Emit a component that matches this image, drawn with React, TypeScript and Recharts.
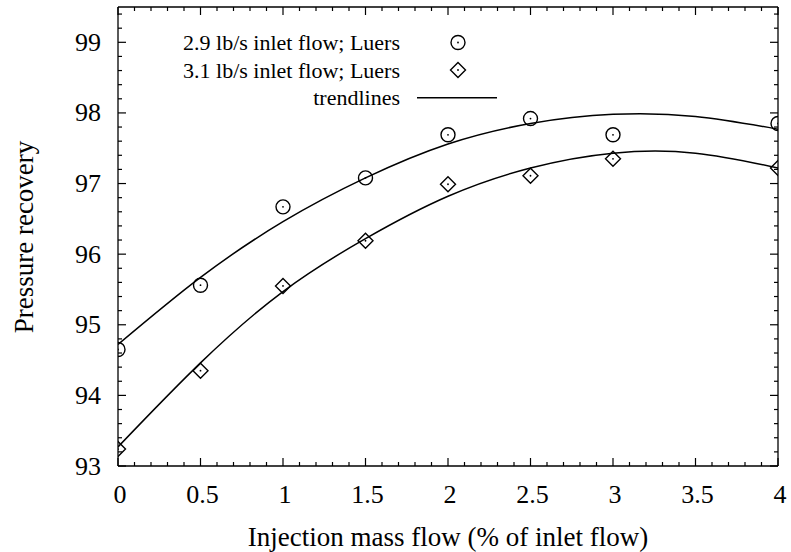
import React from 'react';
import { ComposedChart, Scatter, Line, XAxis, YAxis } from 'recharts';

// measured points (injection % vs pressure recovery)
const injection = [0, 0.5, 1, 1.5, 2, 2.5, 3, 4];
const recovery29 = [94.65, 95.56, 96.67, 97.08, 97.69, 97.92, 97.69, 97.85];
const recovery31 = [93.24, 94.35, 95.55, 96.19, 96.99, 97.11, 97.35, 97.22];

// trendline values
const trendX = [0, 0.5, 1, 1.5, 2, 2.5, 3, 3.5, 4];
const trend29 = [94.72, 95.67, 96.46, 97.08, 97.56, 97.85, 97.98, 97.95, 97.77];
const trend31 = [93.27, 94.46, 95.47, 96.22, 96.82, 97.22, 97.43, 97.43, 97.22];

const xMajorTicks = [0, 0.5, 1, 1.5, 2, 2.5, 3, 3.5, 4];
const yMajorTicks = [93, 94, 95, 96, 97, 98, 99];
const xTicks = Array.from({ length: 41 }, (_, i) => i / 10);
const yTicks = Array.from({ length: 33 }, (_, i) => Math.round((93 + i * 0.2) * 10) / 10);

const legendLabels = ['2.9 lb/s inlet flow; Luers', '3.1 lb/s inlet flow; Luers', 'trendlines'];

const pts29 = injection.map((x, i) => ({ x, y: recovery29[i] }));
const pts31 = injection.map((x, i) => ({ x, y: recovery31[i] }));
const line29 = trendX.map((x, i) => ({ x, y: trend29[i] }));
const line31 = trendX.map((x, i) => ({ x, y: trend31[i] }));

const FONT = '"Liberation Serif", "Times New Roman", serif';

function makeTick(side: 'bottom' | 'top' | 'left' | 'right', majors: number[], labels: boolean) {
  return (props: any) => {
    const { x, y, payload } = props;
    const major = majors.includes(payload.value);
    const len = major ? 8 : 4;
    let dx = 0;
    let dy = 0;
    if (side === 'bottom') dy = -len;
    else if (side === 'top') dy = len;
    else if (side === 'left') dx = len;
    else dx = -len;
    return (
      <g>
        <line x1={x} y1={y} x2={x + dx} y2={y + dy} stroke="#000" strokeWidth={1.2} />
        {labels && major && side === 'bottom' && (
          <text x={x + 2} y={y + 28} textAnchor="middle" dominantBaseline="central" fontSize={26} fill="#000" fontFamily={FONT}>
            {payload.value}
          </text>
        )}
        {labels && major && side === 'left' && (
          <text x={x - 17} y={y} textAnchor="end" dominantBaseline="central" fontSize={26} fill="#000" fontFamily={FONT}>
            {payload.value}
          </text>
        )}
      </g>
    );
  };
}

function CircleMark(props: any) {
  const { cx, cy } = props;
  return (
    <g>
      <circle cx={cx} cy={cy} r={7} fill="none" stroke="#000" strokeWidth={1.4} />
      <circle cx={cx} cy={cy} r={0.9} fill="#000" />
    </g>
  );
}

function DiamondMark(props: any) {
  const { cx, cy } = props;
  const s = 7.5;
  return (
    <g>
      <path d={`M${cx},${cy - s}L${cx + s},${cy}L${cx},${cy + s}L${cx - s},${cy}Z`} fill="none" stroke="#000" strokeWidth={1.4} />
      <circle cx={cx} cy={cy} r={0.9} fill="#000" />
    </g>
  );
}

export default function App() {
  return (
    <div style={{ position: 'absolute', left: 0, top: 0, background: '#fff' }}>
      <ComposedChart width={791} height={552} margin={{ top: 6, right: 12, bottom: 0, left: 0 }} style={{ fontFamily: FONT }}>
        <XAxis
          xAxisId="b" dataKey="x" type="number" domain={[0, 4]} ticks={xTicks} interval={0}
          height={86} tickSize={0} tickMargin={0} tickLine={false}
          axisLine={{ stroke: '#000', strokeWidth: 1.3 }}
          tick={makeTick('bottom', xMajorTicks, true)} allowDataOverflow
        />
        <XAxis
          xAxisId="t" orientation="top" dataKey="x" type="number" domain={[0, 4]} ticks={xTicks} interval={0}
          height={1} tickSize={0} tickMargin={0} tickLine={false}
          axisLine={{ stroke: '#000', strokeWidth: 1.3 }}
          tick={makeTick('top', xMajorTicks, false)} allowDataOverflow
        />
        <YAxis
          yAxisId="l" type="number" domain={[93, 99.5]} ticks={yTicks} interval={0}
          width={118} tickSize={0} tickMargin={0} tickLine={false}
          axisLine={{ stroke: '#000', strokeWidth: 1.3 }}
          tick={makeTick('left', yMajorTicks, true)} allowDataOverflow
        />
        <YAxis
          yAxisId="r" orientation="right" type="number" domain={[93, 99.5]} ticks={yTicks} interval={0}
          width={1} tickSize={0} tickMargin={0} tickLine={false}
          axisLine={{ stroke: '#000', strokeWidth: 1.3 }}
          tick={makeTick('right', yMajorTicks, false)} allowDataOverflow
        />

        <Line xAxisId="b" yAxisId="l" data={line29} dataKey="y" type="natural" stroke="#000" strokeWidth={1.5} dot={false} activeDot={false} isAnimationActive={false} />
        <Line xAxisId="b" yAxisId="l" data={line31} dataKey="y" type="natural" stroke="#000" strokeWidth={1.5} dot={false} activeDot={false} isAnimationActive={false} />
        <Scatter xAxisId="b" yAxisId="l" data={pts29} dataKey="y" shape={CircleMark} isAnimationActive={false} />
        <Scatter xAxisId="b" yAxisId="l" data={pts31} dataKey="y" shape={DiamondMark} isAnimationActive={false} />

        {/* legend */}
        <g fontFamily={FONT} fontSize={22} fill="#000">
          <text x={400} y={50} textAnchor="end">{legendLabels[0]}</text>
          <text x={400} y={77.5} textAnchor="end">{legendLabels[1]}</text>
          <text x={400} y={105} textAnchor="end">{legendLabels[2]}</text>
        </g>
        <CircleMark cx={458} cy={42.5} />
        <DiamondMark cx={458} cy={70} />
        <line x1={417} y1={97.7} x2={497} y2={97.7} stroke="#000" strokeWidth={1.5} />

        {/* axis titles */}
        <text x={448} y={546} textAnchor="middle" fontSize={27} fontFamily={FONT} fill="#000">
          Injection mass flow (% of inlet flow)
        </text>
        <text x={33} y={237} transform="rotate(-90, 33, 237)" textAnchor="middle" fontSize={27} fontFamily={FONT} fill="#000">
          Pressure recovery
        </text>
      </ComposedChart>
    </div>
  );
}
